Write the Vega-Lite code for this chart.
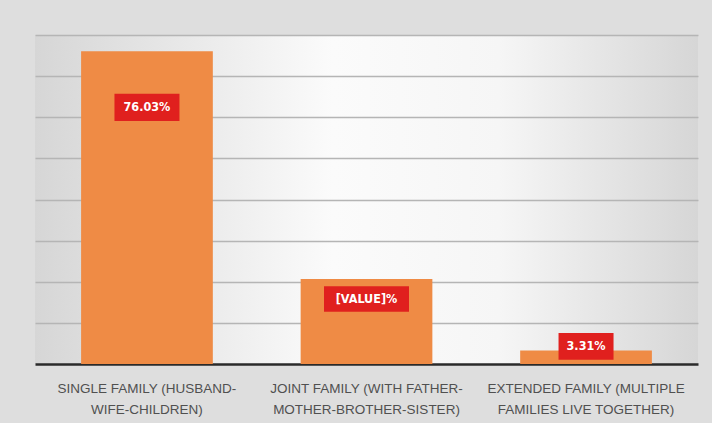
{
  "$schema": "https://vega.github.io/schema/vega-lite/v6.json",
  "width": 663,
  "height": 329,
  "autosize": "none",
  "padding": {"left": 35, "top": 35, "right": 14, "bottom": 59},
  "background": "#dedede",
  "config": {
    "view": {
      "stroke": null,
      "fill": {"gradient": "linear", "x1": 0, "y1": 0, "x2": 1, "y2": 0,
        "stops": [{"offset": 0, "color": "#d6d6d6"}, {"offset": 0.45, "color": "#fbfbfb"}, {"offset": 0.7, "color": "#f6f6f6"}, {"offset": 1, "color": "#d6d6d6"}]}
    },
    "font": "DejaVu Sans Condensed, Liberation Sans, sans-serif"
  },
  "data": {"values": [
    {"family": "SINGLE FAMILY (HUSBAND-|WIFE-CHILDREN)", "value": 76.03, "label": "76.03%"},
    {"family": "JOINT FAMILY (WITH FATHER-|MOTHER-BROTHER-SISTER)", "value": 20.66, "label": "[VALUE]%"},
    {"family": "EXTENDED FAMILY (MULTIPLE|FAMILIES LIVE TOGETHER)", "value": 3.31, "label": "3.31%"}
  ]},
  "encoding": {
    "x": {"field": "family", "type": "nominal", "sort": null,
      "scale": {"paddingInner": 0.4, "paddingOuter": 0.21},
      "axis": {"title": null, "labelAngle": 0, "labelExpr": "split(datum.label, '|')",
        "labelFont": "Liberation Sans, sans-serif",
        "labelFontSize": 13.5, "labelColor": "#505050", "labelPadding": 17, "labelLineHeight": 21, "labelLimit": 0,
        "ticks": false, "domainColor": "#2a2a2a", "domainWidth": 2.5}},
    "y": {"field": "value", "type": "quantitative",
      "scale": {"domain": [0, 80], "nice": false},
      "axis": {"title": null, "labels": false, "ticks": false, "domain": false,
        "values": [10, 20, 30, 40, 50, 60, 70, 80], "gridColor": "#b5b5b5", "gridWidth": 1.5}}
  },
  "layer": [
    {"mark": {"type": "bar", "color": "#EF8B45"}},
    {"transform": [{"filter": "datum.value > 50"}],
     "layer": [
      {"mark": {"type": "point", "shape": "M-1,-0.42L1,-0.42L1,0.42L-1,0.42Z", "size": 4225, "filled": true, "color": "#E0201E", "opacity": 1, "yOffset": 56}},
      {"mark": {"type": "text", "color": "white", "fontWeight": "bold", "fontSize": 12.5, "yOffset": 56}, "encoding": {"text": {"field": "label"}}}
     ]},
    {"transform": [{"filter": "datum.value > 10 && datum.value < 50"}],
     "layer": [
      {"mark": {"type": "point", "shape": "M-1,-0.3L1,-0.3L1,0.3L-1,0.3Z", "size": 7225, "filled": true, "color": "#E0201E", "opacity": 1, "yOffset": 20}},
      {"mark": {"type": "text", "color": "white", "fontWeight": "bold", "fontSize": 12.5, "yOffset": 20}, "encoding": {"text": {"field": "label"}}}
     ]},
    {"transform": [{"filter": "datum.value < 10"}],
     "layer": [
      {"mark": {"type": "point", "shape": "M-1,-0.49L1,-0.49L1,0.49L-1,0.49Z", "size": 3025, "filled": true, "color": "#E0201E", "opacity": 1, "yOffset": -4}},
      {"mark": {"type": "text", "color": "white", "fontWeight": "bold", "fontSize": 12.5, "yOffset": -4}, "encoding": {"text": {"field": "label"}}}
     ]}
  ]
}
